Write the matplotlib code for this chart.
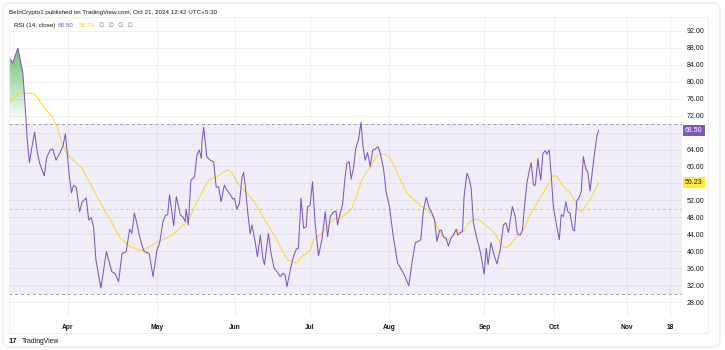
import numpy as np
import matplotlib
matplotlib.use('Agg')
import matplotlib.pyplot as plt
from matplotlib.patches import FancyBboxPatch, Rectangle
from matplotlib.colors import to_rgb

# ── Data: bar index (days from first bar) and indicator values ───────────────
rsi_x = [0, 1.3, 2.3, 3.3, 4.2, 5.2, 6.1, 6.8, 7.7, 8.7, 9.7, 10.6, 11.6, 13.4, 14.4,
         15.7, 16.7, 17.9, 19.3, 20.6, 21.5, 22.1, 22.9, 23.8, 24.6, 25.7, 26.9, 27.9,
         29.5, 30.4, 31.4, 32.3, 33.2, 35.1, 37.2, 39.3, 40.6, 41.9, 43.2, 44.8, 46.1,
         47.0, 47.9, 48.9, 49.9, 50.8, 51.7, 52.8, 53.6, 55.1, 56.6, 57.6, 58.9, 59.9,
         60.7, 61.4, 62.3, 63.0, 64.0, 64.9, 65.5, 66.6, 67.4, 67.8, 68.6, 69.6, 70.4,
         71.0, 71.9, 72.8, 73.6, 73.8, 74.5, 75.7, 77.0, 78.3, 79.3, 80.2, 81.2, 82.4,
         83.4, 84.7, 85.7, 86.3, 87.2, 88.2, 89.2, 89.8, 90.4, 91.3, 92.3, 93.0, 94.3,
         95.1, 96.2, 97.2, 97.8, 99.3, 100.3, 101.5, 102.8, 103.8, 104.9, 105.7, 106.4,
         107.7, 108.9, 110.0, 110.8, 111.8, 112.8, 113.8, 114.3, 115.3, 116.2, 117.2,
         118.5, 119.8, 121.1, 122.0, 123.0, 124.3, 125.2, 125.8, 126.8, 127.7, 128.7,
         129.4, 130.3, 131.0, 131.9, 132.8, 133.8, 134.8, 135.5, 136.4, 137.3, 138.3,
         139.3, 140.2, 141.3, 142.1, 143.4, 144.4, 145.7, 147.0, 148.8, 151.1, 153.1,
         154.3, 155.6, 156.8, 157.7, 158.7, 159.8, 161.0, 162.0, 163.0, 163.9, 164.9,
         165.5, 166.4, 167.4, 168.3, 169.2, 170.2, 171.3, 171.9, 172.8, 173.7, 174.3,
         175.4, 176.2, 177.0, 177.9, 179.2, 180.5, 181.1, 182.0, 182.8, 183.5, 184.6,
         185.6, 186.9, 188.1, 189.4, 190.3, 191.3, 192.8, 193.9, 194.7, 195.8, 196.7,
         197.3, 198.4, 199.2, 200.0, 200.9, 201.6, 202.6, 203.2, 203.7, 204.5, 205.4,
         206.0, 206.9, 207.7, 208.5, 209.6, 210.8, 211.5, 212.4, 213.3, 214.1, 214.9,
         216.0, 216.6, 217.5, 218.4, 219.2, 220.0, 221.0, 221.7, 222.6, 223.5, 224.3,
         225.2, 225.8]
rsi_y = [85.6, 84.4, 86.3, 87.9, 85.2, 82.0, 74.1, 67.0, 60.9, 64.7, 68.1, 63.9, 60.8,
         57.8, 62.3, 63.9, 64.1, 61.5, 63.1, 64.9, 67.7, 63.9, 58.4, 53.8, 55.5, 55.1,
         49.3, 51.6, 52.6, 47.4, 47.9, 45.8, 37.9, 31.3, 39.9, 35.2, 34.6, 32.8, 39.5,
         39.9, 45.2, 44.2, 49.0, 46.6, 43.6, 41.5, 39.9, 39.7, 39.4, 34.0, 40.3, 41.9,
         47.0, 48.5, 48.6, 53.3, 49.3, 46.0, 52.9, 50.4, 48.6, 48.0, 47.0, 49.9, 46.2,
         56.8, 57.2, 57.6, 62.7, 63.9, 61.9, 65.5, 69.3, 62.3, 61.5, 61.1, 55.1, 55.2,
         51.7, 55.6, 54.5, 53.3, 52.3, 52.5, 49.9, 51.3, 57.6, 58.6, 55.6, 49.7, 44.1,
         46.2, 41.9, 38.7, 43.8, 38.3, 36.8, 44.2, 39.5, 36.0, 35.0, 34.0, 34.8, 34.4,
         31.6, 35.6, 38.7, 40.5, 40.7, 52.5, 45.4, 45.8, 50.5, 50.9, 56.4, 46.6, 38.9,
         42.7, 49.3, 43.4, 48.2, 49.3, 49.5, 46.2, 49.0, 50.9, 57.6, 60.8, 61.1, 57.0,
         59.6, 64.3, 66.3, 70.4, 65.1, 61.5, 63.3, 60.0, 63.9, 64.1, 64.7, 63.3, 59.6,
         54.1, 50.5, 44.2, 37.2, 34.8, 31.8, 37.2, 42.0, 42.3, 42.7, 49.7, 52.7, 50.1,
         49.0, 47.4, 42.3, 44.9, 45.0, 43.4, 43.0, 41.2, 43.0, 43.8, 45.2, 43.8, 44.4,
         44.6, 52.9, 58.4, 57.2, 54.9, 46.6, 43.0, 39.9, 37.9, 34.6, 40.7, 36.8, 42.0,
         39.5, 37.0, 40.3, 46.2, 46.7, 44.4, 50.5, 48.2, 44.1, 43.8, 45.0, 49.7, 56.2,
         58.8, 60.9, 55.6, 55.6, 61.9, 58.8, 56.8, 63.1, 63.7, 62.9, 63.9, 58.0, 50.5,
         46.6, 42.7, 48.6, 48.2, 51.7, 49.3, 49.0, 45.0, 44.8, 51.9, 52.7, 54.1, 62.3,
         59.3, 58.8, 54.2, 59.2, 63.1, 67.2, 68.5]

sma_x = [0, 2.3, 4.9, 9.3, 11.2, 13.1, 16.4, 18.3, 20.2, 22.1, 24.6, 27.9, 31.0, 33.6,
         36.1, 38.7, 42.5, 46.4, 50.8, 54.0, 57.9, 62.3, 65.5, 68.7, 71.9, 74.4, 76.4,
         79.6, 83.4, 85.3, 87.9, 92.3, 95.5, 98.7, 101.9, 105.1, 107.0, 110.2, 112.1,
         115.3, 116.6, 119.2, 121.7, 124.3, 126.8, 129.4, 131.3, 133.2, 135.1, 137.0,
         139.0, 140.6, 142.1, 144.1, 146.0, 147.9, 149.8, 152.4, 154.9, 157.5, 160.0,
         162.6, 164.5, 166.4, 168.3, 170.2, 172.1, 174.1, 176.0, 177.9, 180.2, 182.4,
         184.9, 186.9, 188.8, 190.4, 192.0, 193.9, 195.8, 197.7, 199.6, 201.5, 203.4,
         205.4, 207.3, 208.3, 209.6, 211.1, 213.0, 214.9, 216.9, 218.1, 219.4, 221.1,
         222.9, 224.5, 225.8]
sma_y = [75.1, 76.7, 77.3, 77.3, 75.9, 74.1, 71.8, 69.3, 65.5, 63.1, 61.4, 59.6, 56.0,
         52.9, 50.1, 47.4, 43.1, 41.1, 40.1, 41.2, 42.5, 43.8, 45.4, 47.4, 51.7, 54.5,
         56.8, 57.6, 59.2, 58.6, 55.6, 52.9, 50.1, 46.6, 43.4, 39.5, 37.8, 37.2, 38.7,
         40.1, 42.7, 43.8, 45.7, 47.6, 47.8, 49.0, 50.1, 53.3, 56.8, 58.8, 60.4, 62.3,
         63.1, 62.9, 61.9, 59.6, 57.0, 53.7, 52.3, 50.7, 49.9, 48.0, 45.0, 43.4, 42.7,
         43.8, 45.0, 44.6, 46.6, 47.6, 47.4, 46.2, 45.0, 43.4, 41.2, 40.8, 41.5, 43.0,
         44.1, 45.8, 48.6, 50.5, 52.5, 54.6, 56.8, 57.8, 57.8, 56.4, 54.9, 53.8, 51.7,
         49.9, 49.3, 50.9, 52.5, 54.5, 56.2]

month_pos = [22.5, 56.6, 86.6, 115.3, 145.7, 182.1, 208.7, 236.7, 253.4]
month_labels = ['Apr', 'May', 'Jun', 'Jul', 'Aug', 'Sep', 'Oct', 'Nov', '18']
grid_levels = list(range(28, 93, 4))
tick_levels = [v for v in grid_levels if v not in (56, 68)]   # hidden under the value tags

UPPER, MIDDLE, LOWER = 70, 50, 30
LAST_RSI = '68.50'
LAST_SMA = '56.23'
X_MAX = 257.7
Y_MIN, Y_MAX = 24.7, 95.3

# ── Style ────────────────────────────────────────────────────────────────────
RSI_COLOR = '#7E57C2'
SMA_COLOR = '#FDD835'
TEXT = '#131722'
GRID = '#F0F0F4'
W, H = 725, 350

plt.rcParams['font.family'] = ['Liberation Sans', 'DejaVu Sans']

fig = plt.figure(figsize=(W / 100, H / 100), dpi=100)
fig.patch.set_facecolor('white')
ax = fig.add_axes([9.3 / W, 1 - 316 / H, (681.7 - 9.3) / W, (316 - 17) / H])
ax.set_facecolor('white')

# grid
for lv in grid_levels:
    ax.axhline(lv, color=GRID, lw=0.7, zorder=0)
for mp in month_pos:
    ax.axvline(mp, color=GRID, lw=0.7, zorder=0)

# RSI band
ax.axhspan(LOWER, UPPER, color=RSI_COLOR, alpha=0.11, lw=0, zorder=1)
ax.axhline(UPPER, color='#9C9CA8', lw=0.7, ls=(0, (3, 3)), zorder=2)
ax.axhline(LOWER, color='#9C9CA8', lw=0.7, ls=(0, (3, 3)), zorder=2)
ax.axhline(MIDDLE, color='#C4C4CC', lw=0.7, ls=(0, (3, 3)), zorder=2)

# overbought gradient fill
ob = ax.fill_between(rsi_x, rsi_y, UPPER, where=np.array(rsi_y) >= UPPER,
                     interpolate=True, color='none', lw=0)
cross = next(i for i, v in enumerate(rsi_y) if v < UPPER)
grad = np.zeros((100, 1, 4))
grad[..., :3] = to_rgb('#4CAF50')
grad[:, 0, 3] = np.linspace(0.8, 0.0, 100)
img = ax.imshow(grad, extent=[rsi_x[0], rsi_x[cross], UPPER, max(rsi_y)],
                aspect='auto', origin='upper', zorder=2, interpolation='bilinear')
img.set_clip_path(ob.get_paths()[0], transform=ax.transData)

# lines
ax.plot(sma_x, sma_y, color=SMA_COLOR, lw=0.75, zorder=3)
ax.plot(rsi_x, rsi_y, color=RSI_COLOR, lw=0.75, zorder=4)

ax.set_xlim(rsi_x[0], X_MAX)
ax.set_ylim(Y_MIN, Y_MAX)

for s in ax.spines.values():
    s.set_visible(False)

ax.yaxis.tick_right()
ax.set_yticks(tick_levels)
ax.set_yticklabels([f'{v:.2f}' for v in tick_levels])
ax.tick_params(axis='y', length=0, pad=3.5, labelsize=5, labelcolor=TEXT)
ax.set_xticks(month_pos)
ax.set_xticklabels(month_labels, fontweight='bold')
ax.tick_params(axis='x', length=0, pad=6, labelsize=4.8, labelcolor=TEXT)

# value tags on the price scale
ytr = ax.get_yaxis_transform()
ax.text(1.005, float(LAST_RSI), LAST_RSI, transform=ytr, ha='left', va='center',
        fontsize=5, color='white', clip_on=False,
        bbox=dict(boxstyle='square,pad=0.35', fc=RSI_COLOR, ec='none'))
ax.text(1.005, float(LAST_SMA), LAST_SMA, transform=ytr, ha='left', va='center',
        fontsize=5, color=TEXT, clip_on=False,
        bbox=dict(boxstyle='square,pad=0.35', fc='#FFEB3B', ec='none'))

# card and pane frames
fig.patches.append(FancyBboxPatch((3, 3), W - 8, H - 6, boxstyle='round,pad=0,rounding_size=7',
                                  transform=None, fc='none', ec='#E4E6EC', lw=0.8))
fig.patches.append(Rectangle((9, H - 333), 699, 316, transform=None,
                             fc='none', ec='#ECECF1', lw=0.6))

# header, legend, footer
fig.text(9 / W, 1 - 12.5 / H,
         'BeInCrypto1 published on TradingView.com, Oct 21, 2024 12:42 UTC+5:30',
         fontsize=4.5, color=TEXT, va='center', ha='left')
fig.text(14 / W, 1 - 25.5 / H, 'RSI (14, close)', fontsize=4.5, color=TEXT, va='center')
fig.text(58 / W, 1 - 25.5 / H, LAST_RSI, fontsize=4.5, color=RSI_COLOR, va='center')
fig.text(79 / W, 1 - 25.5 / H, LAST_SMA, fontsize=4.5, color='#F5D90A', va='center')
fig.text(99 / W, 1 - 25.5 / H, '\u2205  \u2205  \u2205  \u2205', fontsize=4.5,
         color='#787B86', va='center', family=['DejaVu Sans'])
fig.text(9 / W, 1 - 341.5 / H, '17', fontsize=5.5, fontweight='bold', color=TEXT, va='center')
fig.text(22 / W, 1 - 341.5 / H, 'TradingView', fontsize=4.9, color=TEXT, va='center')

fig.savefig('out.png', dpi=100)
